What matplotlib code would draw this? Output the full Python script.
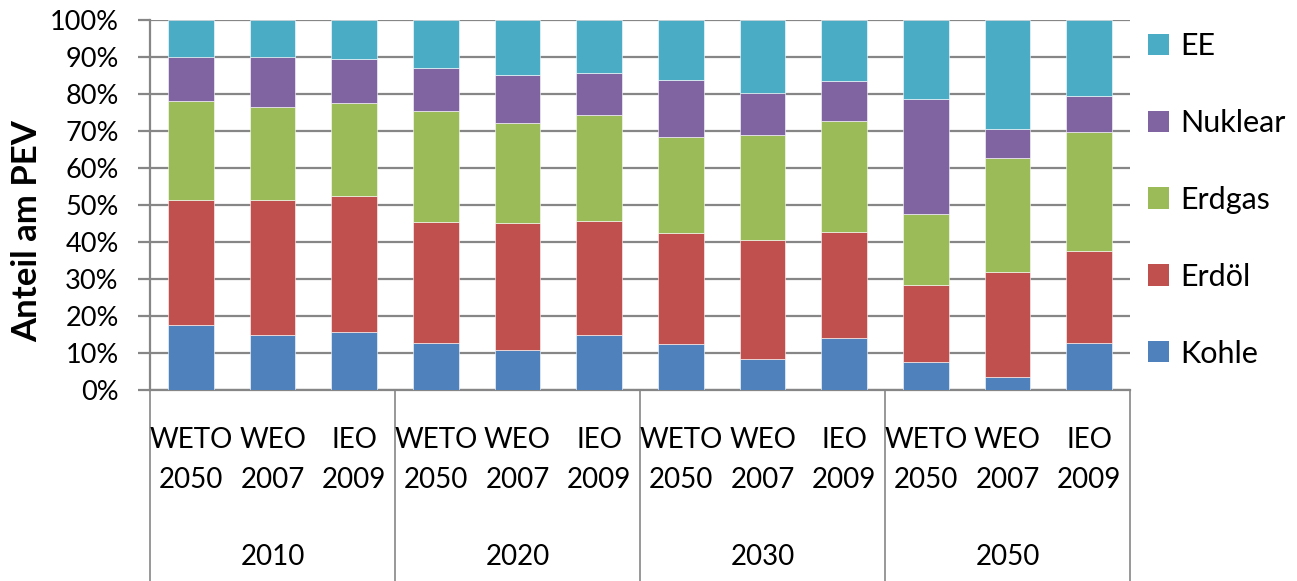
import numpy as np
import matplotlib
matplotlib.use('Agg')
from matplotlib import pyplot as plt
from matplotlib.patches import Patch
import matplotlib.transforms as mtransforms

plt.rcParams['font.family'] = ['Lato', 'DejaVu Sans']

years = ['2010', '2020', '2030', '2050']
sources = ['WETO\n2050', 'WEO\n2007', 'IEO\n2009']

series = ['Kohle', 'Erdöl', 'Erdgas', 'Nuklear', 'EE']
colors = ['#4F81BD', '#C0504D', '#9BBB59', '#8064A2', '#4BACC6']

# shares in % (order: 2010 WETO, WEO, IEO, 2020 ..., 2030 ..., 2050 ...)
kohle   = [17.5, 15.0, 15.8, 12.6, 10.7, 14.8, 12.3, 8.3, 14.0, 7.6, 3.4, 12.6]
erdoel  = [33.9, 36.3, 36.5, 32.9, 34.5, 31.0, 30.0, 32.3, 28.8, 20.8, 28.6, 25.1]
erdgas  = [26.6, 25.1, 25.4, 29.9, 27.0, 28.6, 26.2, 28.3, 30.0, 19.2, 30.6, 32.1]
nuklear = [12.1, 13.5, 11.8, 11.6, 12.9, 11.4, 15.4, 11.3, 10.8, 31.0, 8.0, 9.7]
ee      = [9.9, 10.1, 10.5, 13.0, 14.9, 14.2, 16.1, 19.8, 16.4, 21.4, 29.4, 20.5]

data = np.array([kohle, erdoel, erdgas, nuklear, ee])

fig = plt.figure(figsize=(12.97, 5.81), dpi=100)
ax = fig.add_axes([150/1297, 1-390/581, 980/1297, 370/581])

x = np.arange(len(kohle))
bottom = np.zeros(len(kohle))
for vals, col, name in zip(data, colors, series):
    ax.bar(x, vals, 0.56, bottom=bottom, color=col, label=name, zorder=3,
           edgecolor='white', linewidth=0.4)
    bottom += vals

ax.set_xlim(-0.5, 11.5)
ax.set_ylim(0, 100)
ax.set_yticks(np.arange(0, 101, 10))
ax.set_yticklabels(['%d%%' % v for v in range(0, 101, 10)], fontsize=19.5)
ax.yaxis.grid(True, color='#868686', linewidth=1.6, zorder=0)
ax.tick_params(axis='y', length=8.5, width=1.6, color='#868686', pad=14)
ax.set_xticks([])
for s in ['top', 'right']:
    ax.spines[s].set_visible(False)
for s in ['left', 'bottom']:
    ax.spines[s].set_color('#868686')
    ax.spines[s].set_linewidth(1.6)

# multi-level category axis
trans = mtransforms.blended_transform_factory(ax.transData, ax.transAxes)
ybot = -191/370
for xs in [-0.5, 2.5, 5.5, 8.5, 11.5]:
    ax.plot([xs, xs], [0, ybot], color='#868686', linewidth=1.2,
            transform=trans, clip_on=False)
for i in range(len(kohle)):
    ax.text(i, -70/370, sources[i % 3], transform=trans, ha='center',
            va='center', fontsize=20, linespacing=1.62)
for j, yr in enumerate(years):
    ax.text(3*j + 1, -167/370, yr, transform=trans, ha='center',
            va='center', fontsize=20)

fig.text(27/1297, 1-231/581, 'Anteil am PEV', rotation=90, ha='center',
         va='center', fontsize=25, fontweight='bold')

handles = [Patch(facecolor=c, label=n) for c, n in zip(colors, series)][::-1]
fig.legend(handles=handles, loc='upper left', bbox_to_anchor=(1148/1297, 1-32/581),
           frameon=False, fontsize=22, handlelength=0.69, handleheight=0.69,
           labelspacing=1.6, handletextpad=0.36, borderpad=0, borderaxespad=0)

plt.savefig('out.png', dpi=100)
